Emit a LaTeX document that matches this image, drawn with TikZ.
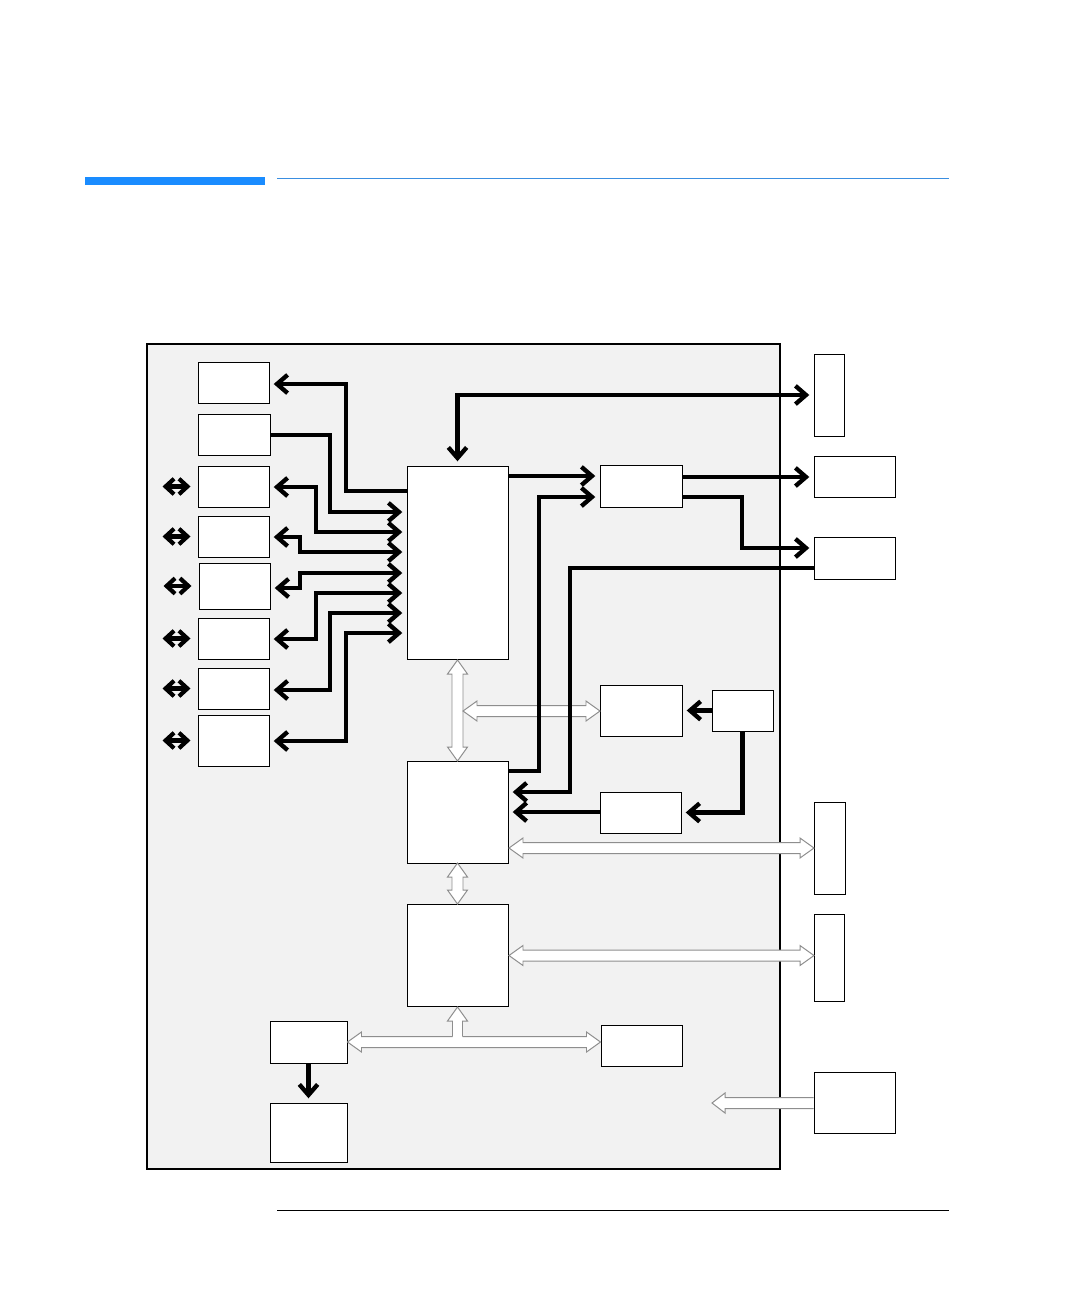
\documentclass[tikz,border=0pt]{standalone}
\usetikzlibrary{arrows.meta,fit,calc}
\definecolor{hpblue}{HTML}{1A8CFF}
\definecolor{hpline}{HTML}{3A8EE0}
\definecolor{panelgray}{HTML}{F2F2F2}
\definecolor{busgray}{HTML}{8E8E8E}
\newcommand\hbusd[3]{% x1 x2 y : double headed horizontal bus
 \filldraw[bus] (#1,#3) -- ({#1+14},{#3-10}) -- ({#1+14},{#3-5.5}) -- ({#2-14},{#3-5.5}) -- ({#2-14},{#3-10}) -- (#2,#3) -- ({#2-14},{#3+10}) -- ({#2-14},{#3+5.5}) -- ({#1+14},{#3+5.5}) -- ({#1+14},{#3+10}) -- cycle;}
\newcommand\vbusd[3]{% x y1 y2 : double headed vertical bus
 \filldraw[bus] (#1,#2) -- ({#1+10},{#2+14}) -- ({#1+5.5},{#2+14}) -- ({#1+5.5},{#3-14}) -- ({#1+10},{#3-14}) -- (#1,#3) -- ({#1-10},{#3-14}) -- ({#1-5.5},{#3-14}) -- ({#1-5.5},{#2+14}) -- ({#1-10},{#2+14}) -- cycle;}
\tikzset{
  chev/.tip={Straight Barb[length=7.5pt,width=13pt]},
  smallchev/.tip={Straight Barb[length=6pt,width=11pt]},
  box/.style={draw=black, fill=white, line width=0.7pt, inner sep=0pt},
  arr/.style={line width=3.1pt, -chev, shorten >=3pt},
  arrboth/.style={line width=3.1pt, chev-chev, shorten >=3pt, shorten <=3pt},
  smallarr/.style={line width=3pt, smallchev-smallchev},
  bus/.style={draw=busgray, fill=white, line width=0.7pt, line join=miter},
}
\begin{document}
\begin{tikzpicture}[x=0.025cm,y=-0.025cm]
\useasboundingbox (0,0) rectangle (1080,1296);
% header and footer rules
\fill[hpblue] (85,177) rectangle (265,184.5);
\draw[hpline, line width=0.8pt] (277,178.5) -- (949,178.5);
\draw[black, line width=0.7pt] (277,1210) -- (949,1210);
% panel
\draw[fill=panelgray, line width=0.9pt] (147,344) rectangle (780,1169);
% left boxes
\node[box, fit={(198,362)(269,403)}] (L1) {};
\node[box, fit={(198,414)(270,455)}] (L2) {};
\node[box, fit={(198,466)(269,507)}] (L3) {};
\node[box, fit={(198,516)(269,557)}] (L4) {};
\node[box, fit={(199,563)(270,609)}] (L5) {};
\node[box, fit={(198,618)(269,659)}] (L6) {};
\node[box, fit={(198,668)(269,709)}] (L7) {};
\node[box, fit={(198,715)(269,766)}] (L8) {};
% central boxes
\node[box, fit={(407,466)(508,659)}] (cpu) {};
\node[box, fit={(407,761)(508,863)}] (B) {};
\node[box, fit={(407,904)(508,1006)}] (C) {};
\node[box, fit={(600,465)(682,507)}] (D) {};
\node[box, fit={(600,685)(682,736)}] (E) {};
\node[box, fit={(712,690)(773,731)}] (F) {};
\node[box, fit={(600,792)(681,833)}] (G) {};
\node[box, fit={(270,1021)(347,1063)}] (H) {};
\node[box, fit={(270,1103)(347,1162)}] (I) {};
\node[box, fit={(601,1025)(682,1066)}] (J) {};
% right outside boxes
\node[box, fit={(814,354)(844,436)}] (R1) {};
\node[box, fit={(814,456)(895,497)}] (R2) {};
\node[box, fit={(814,537)(895,579)}] (R3) {};
\node[box, fit={(814,802)(845,894)}] (R4) {};
\node[box, fit={(814,914)(844,1001)}] (R5) {};
\node[box, fit={(814,1072)(895,1133)}] (R6) {};
% hollow buses
\vbusd{457.5}{660}{761}
\hbusd{463}{600}{711}
\hbusd{509}{814}{848}
\vbusd{457.5}{863}{904}
\hbusd{509}{814}{955.5}
\hbusd{347.5}{600.5}{1042}
\fill[white] (452.5,1043) -- (452.5,1021) -- (447.5,1021) -- (457.5,1007) -- (467.5,1021) -- (462.5,1021) -- (462.5,1043) -- cycle;
\draw[bus] (452.5,1036.5) -- (452.5,1021) -- (447.5,1021) -- (457.5,1007) -- (467.5,1021) -- (462.5,1021) -- (462.5,1036.5);
\fill[white] (712,1103) -- (725,1093) -- (725,1097.5) -- (813.5,1097.5) -- (813.5,1108.5) -- (725,1108.5) -- (725,1113) -- cycle;
\draw[bus] (813.5,1097.5) -- (725,1097.5) -- (725,1093) -- (712,1103) -- (725,1113) -- (725,1108.5) -- (813.5,1108.5);
% small bidirectional arrows on the left
\foreach \n in {L3,L4,L5,L6,L7,L8}
  \draw[smallarr] ($(\n.west)+(-35,0)$) -- ($(\n.west)+(-7,0)$);
% black connectors, left group
\draw[arr] (cpu.west |- 0,491) -| (346,384) -- (L1.east |- 0,384);
\draw[arr] (L2.east |- 0,435) -| (330,512) -- (cpu.west |- 0,512);
\draw[arrboth] (L3.east |- 0,487) -| (316,532) -- (cpu.west |- 0,532);
\draw[arrboth] (L4.east |- 0,537) -| (300,552) -- (cpu.west |- 0,552);
\draw[arrboth] (L5.east |- 0,588) -| (300,573) -- (cpu.west |- 0,573);
\draw[arrboth] (L6.east |- 0,639) -| (316,593) -- (cpu.west |- 0,593);
\draw[arrboth] (L7.east |- 0,690) -| (330,613) -- (cpu.west |- 0,613);
\draw[arrboth] (L8.east |- 0,741) -| (346,633) -- (cpu.west |- 0,633);
% black connectors, right group
\draw[arrboth] (cpu.north) -- (cpu.north |- 0,395) -- (R1.west |- 0,395);
\draw[arr] (cpu.east |- 0,476) -- (D.west |- 0,476);
\draw[arr] (B.east |- 0,771) -| (539,497) -- (D.west |- 0,497);
\draw[arr] (D.east |- 0,477) -- (R2.west |- 0,477);
\draw[arr] (D.east |- 0,497) -| (742,548) -- (R3.west |- 0,548);
\draw[arr] (R3.west |- 0,568) -| (570,792) -- (B.east |- 0,792);
\draw[arr] (G.west |- 0,812) -- (B.east |- 0,812);
\draw[arr] (F.west) -- (E.east |- F.west);
\draw[arr] (F.south) -- (F.south |- G.east) -- (G.east);
\draw[arr] (H.south) -- (I.north);
\end{tikzpicture}
\end{document}
